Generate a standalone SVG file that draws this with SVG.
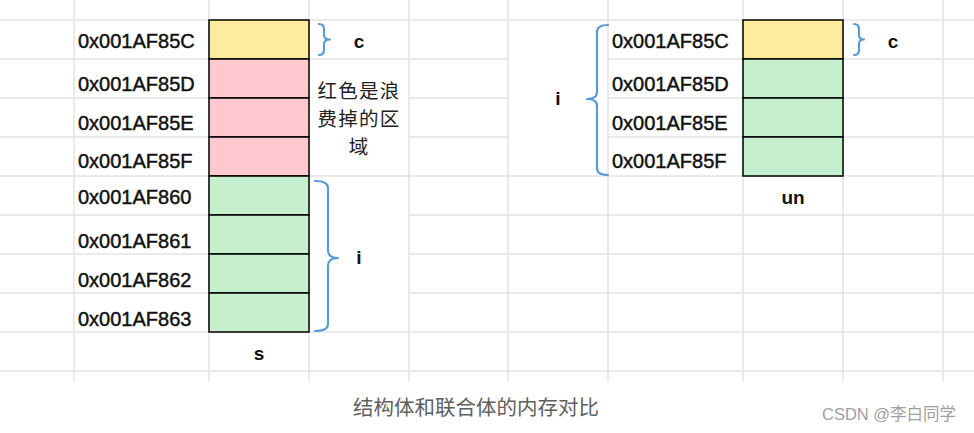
<svg xmlns="http://www.w3.org/2000/svg" width="974" height="433" viewBox="0 0 974 433">
<style>
.grid{stroke:#e4e4e4;stroke-width:1.5;fill:none}
.cell{stroke:#000;stroke-width:1.5}
.y{fill:#ffeb9c}
.r{fill:#ffc7ce}
.g{fill:#c6efce}
.addr{font-family:"Liberation Sans",Arial,sans-serif;font-size:20px;fill:#111;stroke:#111;stroke-width:0.45}
.lbl{font-family:"Liberation Sans",Arial,sans-serif;font-size:19px;font-weight:bold;fill:#111;text-anchor:middle}
.note{font-family:"Noto Sans CJK SC",sans-serif;font-size:19.5px;letter-spacing:1.2px;fill:#222;text-anchor:middle}
.brace{stroke:#5b9bd5;stroke-width:2.2;fill:none;stroke-linejoin:round;stroke-linecap:round}
.cap{font-family:"Noto Sans CJK SC",sans-serif;font-size:20.5px;fill:#606060}
.wm{font-family:"Liberation Sans","Noto Sans CJK SC",sans-serif;font-size:16.5px;fill:#a0a0a0}
</style>
<rect width="974" height="433" fill="#fff"/>
<g id="grid" class="grid">
<path d="M74 0V382M209 0V382M309 0V382M409 0V382M508 0V382M608 0V382M743 0V382M843 0V382M943 0V382"/>
<path d="M0 20H974M0 59H508M608 59H974M0 98H309M409 98H508M608 98H974M0 137H309M409 137H508M608 137H974M0 176H974M0 215H309M409 215H974M0 254H309M409 254H974M0 293H309M409 293H974M0 332H974M0 371H974"/>
</g>
<g id="struct-s">
<rect class="cell y" x="209" y="20" width="100" height="39"/>
<rect class="cell r" x="209" y="59" width="100" height="39"/>
<rect class="cell r" x="209" y="98" width="100" height="39"/>
<rect class="cell r" x="209" y="137" width="100" height="39"/>
<rect class="cell g" x="209" y="176" width="100" height="39"/>
<rect class="cell g" x="209" y="215" width="100" height="39"/>
<rect class="cell g" x="209" y="254" width="100" height="39"/>
<rect class="cell g" x="209" y="293" width="100" height="39"/>
<text class="addr" x="78" y="48">0x001AF85C</text>
<text class="addr" x="78" y="91">0x001AF85D</text>
<text class="addr" x="78" y="130">0x001AF85E</text>
<text class="addr" x="78" y="168">0x001AF85F</text>
<text class="addr" x="78" y="204">0x001AF860</text>
<text class="addr" x="78" y="248">0x001AF861</text>
<text class="addr" x="78" y="287">0x001AF862</text>
<text class="addr" x="78" y="326">0x001AF863</text>
<text class="lbl" x="259" y="360">s</text>
</g>
<g id="union-un">
<rect class="cell y" x="743" y="20" width="100" height="39"/>
<rect class="cell g" x="743" y="59" width="100" height="39"/>
<rect class="cell g" x="743" y="98" width="100" height="39"/>
<rect class="cell g" x="743" y="137" width="100" height="39"/>
<text class="addr" x="612" y="48">0x001AF85C</text>
<text class="addr" x="612" y="91">0x001AF85D</text>
<text class="addr" x="612" y="130">0x001AF85E</text>
<text class="addr" x="612" y="168">0x001AF85F</text>
<text class="lbl" x="793" y="204">un</text>
</g>
<g id="connectors" class="brace">
<path d="M319 24Q324 24 324 29V35Q324 39.5 330 39.5Q324 39.5 324 44V50Q324 55 319 55"/>
<path d="M315 181Q328 181 328 188V250Q328 258 338 258Q328 258 328 266V324Q328 331 315 331"/>
<path d="M608 25Q597 25 597 32V92Q597 99 587 99Q597 99 597 106V168Q597 175 608 175"/>
<path d="M854 24Q859 24 859 29V35Q859 39.5 864 39.5Q859 39.5 859 44V50Q859 55 854 55"/>
</g>
<g id="labels">
<text class="lbl" x="359" y="48">c</text>
<text class="lbl" x="359" y="264">i</text>
<text class="lbl" x="558" y="105">i</text>
<text class="lbl" x="893" y="48">c</text>
</g>
<g id="note">
<text class="note" x="359" y="98">红色是浪</text>
<text class="note" x="359" y="126">费掉的区</text>
<text class="note" x="359" y="154">域</text>
</g>
<g id="caption">
<text class="cap" x="353" y="415">结构体和联合体的内存对比</text>
<text class="wm" x="822" y="420">CSDN @李白同学</text>
</g>
</svg>
